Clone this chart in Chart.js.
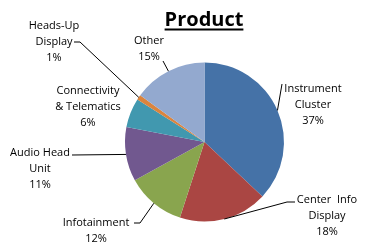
<!DOCTYPE html>
<html><head><meta charset="utf-8">
<script src="https://cdn.jsdelivr.net/npm/chart.js@4"></script>
<style>html,body{margin:0;padding:0;background:#fff}#c{display:block}</style>
</head><body>
<canvas id="c" width="368" height="246"></canvas>
<script>
const categories = ["Instrument Cluster","Center Info Display","Infotainment","Audio Head Unit","Connectivity & Telematics","Heads-Up Display","Other"];
const values = [37, 18, 12, 11, 6, 1, 15];
const labelLines = [["Instrument","Cluster"],["Center  Info","Display"],["Infotainment"],["Audio Head","Unit"],["Connectivity","& Telematics"],["Heads-Up","Display"],["Other"]];
const colors = ["#4572A7","#AA4643","#89A54E","#71588F","#4198AF","#DB843D","#93A9CF"];
// label layout: center x, first line y, leader start (x,y) and optional elbow x
const labelPos = [
  {x:313, y:89, lead:[282,84], elbow:null},
  {x:327, y:200, lead:[295,202], elbow:287},
  {x:96, y:223, lead:[134,223], elbow:140},
  {x:40, y:153, lead:[72,155], elbow:null},
  {x:88, y:91, lead:null},
  {x:54, y:26, lead:[74,42], elbow:80},
  {x:149, y:41, lead:[163,61], elbow:null}
];
const FONT = "11px 'Open Sans', sans-serif";
const labelPlugin = {
  id:'labels',
  afterDraw(chart){
    const ctx = chart.ctx;
    ctx.save();
    // title
    ctx.fillStyle = '#000';
    ctx.font = "bold 20px 'Open Sans', sans-serif";
    ctx.textAlign = 'center';
    ctx.textBaseline = 'alphabetic';
    const t = 'Product';
    ctx.fillText(t, 204, 26);
    const w = ctx.measureText(t).width;
    ctx.fillRect(204 - w/2, 28.5, w, 2);
    // labels
    const meta = chart.getDatasetMeta(0);
    const total = values.reduce((a,b)=>a+b,0);
    ctx.font = FONT;
    ctx.textBaseline = 'middle';
    meta.data.forEach((arc, i) => {
      const p = labelPos[i];
      const lines = labelLines[i].concat([Math.round(values[i]/total*100) + '%']);
      lines.forEach((ln, k) => ctx.fillText(ln, p.x, p.y + k*16));
      if (p.lead) {
        const mid = (arc.startAngle + arc.endAngle)/2;
        const ex = arc.x + Math.cos(mid)*arc.outerRadius;
        const ey = arc.y + Math.sin(mid)*arc.outerRadius;
        ctx.strokeStyle = '#000';
        ctx.lineWidth = 1;
        ctx.beginPath();
        ctx.moveTo(p.lead[0], p.lead[1]);
        if (p.elbow !== null) ctx.lineTo(p.elbow, p.lead[1]);
        ctx.lineTo(ex, ey);
        ctx.stroke();
      }
    });
    ctx.restore();
  }
};
new Chart(document.getElementById('c'), {
  type:'pie',
  data:{labels:categories, datasets:[{data:values, backgroundColor:colors, borderWidth:0}]},
  options:{
    responsive:false, animation:false,
    layout:{padding:{left:125, right:84, top:62.5, bottom:24.5}},
    plugins:{legend:{display:false}, tooltip:{enabled:false}, title:{display:false}}
  },
  plugins:[labelPlugin]
});
</script>
</body></html>
